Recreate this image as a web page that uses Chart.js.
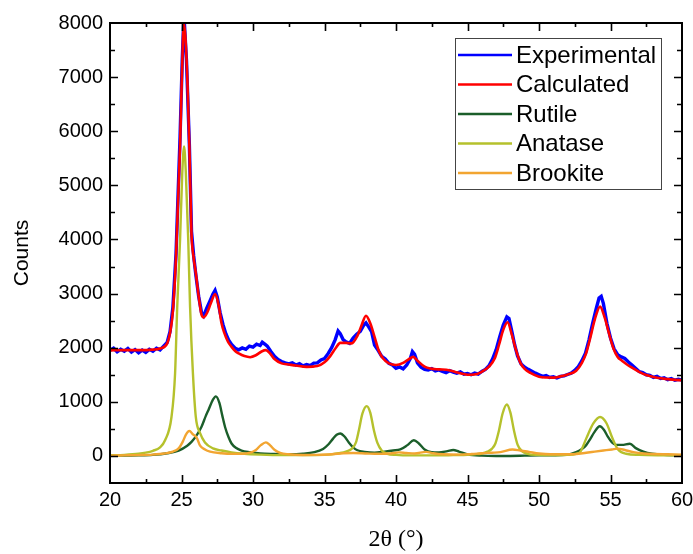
<!DOCTYPE html>
<html>
<head>
<meta charset="utf-8">
<script src="https://cdn.jsdelivr.net/npm/chart.js@4"></script>
<style>
  body { margin: 0; background: #fff; }
  canvas { display: block; }
</style>
</head>
<body>
<canvas id="xrd" width="693" height="554"></canvas>
<script>
// --- XRD pattern: measured vs. refined profile, plus the three TiO2 phases ---
const angleTicks = [20, 25, 30, 35, 40, 45, 50, 55, 60];
const countTicks = [0, 1000, 2000, 3000, 4000, 5000, 6000, 7000, 8000];

// [2theta, counts]
const experimental = [
  [20,1950],[20.25,1990],[20.5,1925],[20.75,1970],[21,1935],[21.25,1985],[21.5,1920],[21.75,1965],
  [22,1905],[22.25,1955],[22.5,1915],[22.75,1970],[23,1935],[23.25,1990],[23.5,1960],[23.75,2030],
  [24,2100],[24.2,2300],[24.4,2750],[24.62,3750],[24.9,5900],[25.05,7300],[25.17,8150],[25.35,7300],
  [25.55,5750],[25.7,4150],[25.85,3700],[26,3350],[26.2,2950],[26.4,2650],[26.55,2590],[26.75,2720],
  [27,2870],[27.2,2990],[27.35,3060],[27.5,2940],[27.7,2650],[27.9,2430],[28.1,2260],[28.3,2140],
  [28.5,2060],[28.75,1990],[29,1960],[29.25,1995],[29.5,1970],[29.75,2030],[30,2010],[30.25,2065],
  [30.5,2040],[30.65,2100],[30.85,2060],[31,2030],[31.25,1930],[31.5,1840],[31.75,1780],[32,1745],
  [32.25,1720],[32.5,1700],[32.75,1720],[33,1680],[33.25,1705],[33.5,1665],[33.75,1690],[34,1670],
  [34.25,1715],[34.5,1720],[34.75,1775],[35,1800],[35.25,1890],[35.5,2000],[35.75,2150],[35.95,2310],
  [36.1,2260],[36.3,2150],[36.5,2110],[36.75,2080],[37,2180],[37.25,2250],[37.5,2300],[37.75,2420],
  [37.9,2460],[38.1,2380],[38.3,2290],[38.5,2050],[38.75,1950],[39,1840],[39.25,1790],[39.5,1710],
  [39.75,1680],[40,1620],[40.25,1645],[40.5,1610],[40.75,1680],[41,1800],[41.15,1930],[41.3,1880],
  [41.5,1720],[41.75,1640],[42,1600],[42.25,1590],[42.5,1615],[42.75,1570],[43,1590],[43.25,1560],
  [43.5,1540],[43.75,1575],[44,1550],[44.25,1530],[44.5,1555],[44.75,1510],[45,1525],[45.25,1500],
  [45.5,1530],[45.75,1510],[46,1560],[46.25,1600],[46.5,1665],[46.75,1790],[47,1960],[47.25,2200],
  [47.5,2420],[47.75,2570],[47.9,2540],[48.1,2300],[48.3,2050],[48.5,1850],[48.75,1700],[49,1640],
  [49.25,1600],[49.5,1565],[49.75,1530],[50,1500],[50.25,1470],[50.5,1485],[50.75,1450],[51,1465],
  [51.25,1440],[51.5,1470],[51.75,1480],[52,1505],[52.25,1530],[52.5,1580],[52.75,1650],[53,1760],
  [53.25,1900],[53.5,2150],[53.75,2450],[54,2720],[54.2,2920],[54.35,2950],[54.5,2820],[54.75,2450],
  [55,2180],[55.25,1980],[55.5,1870],[55.75,1830],[56,1800],[56.25,1735],[56.5,1680],[56.75,1620],
  [57,1560],[57.25,1540],[57.5,1500],[57.75,1490],[58,1450],[58.25,1470],[58.5,1430],[58.75,1445],
  [59,1410],[59.25,1430],[59.5,1400],[59.75,1415],[60,1400]
];

const calculated = [
  [20,1950],[21,1955],[22,1955],[23,1965],[23.5,1985],[24,2080],[24.2,2270],[24.4,2680],
  [24.62,3700],[24.9,5730],[25.02,6950],[25.17,7990],[25.41,6950],[25.55,5730],[25.7,4100],[25.83,3700],
  [26,3380],[26.2,2950],[26.41,2600],[26.55,2560],[26.8,2650],[27.05,2820],[27.35,2990],[27.6,2780],
  [27.8,2450],[28,2270],[28.25,2110],[28.5,2015],[28.75,1940],[29,1895],[29.4,1845],[29.8,1825],
  [30.2,1860],[30.6,1930],[30.9,1955],[31.2,1890],[31.5,1790],[32,1710],[32.5,1690],[33,1670],
  [33.75,1645],[34.5,1660],[35,1730],[35.4,1845],[35.8,2000],[36.1,2090],[36.5,2090],[36.9,2080],
  [37.3,2220],[37.6,2420],[37.9,2590],[38.2,2450],[38.5,2200],[38.8,1940],[39.1,1800],[39.5,1710],
  [40,1680],[40.5,1720],[40.9,1790],[41.2,1830],[41.5,1760],[42,1650],[42.4,1615],[43,1600],
  [43.7,1585],[44.3,1540],[45,1500],[45.5,1505],[46,1555],[46.5,1650],[46.9,1800],[47.2,2050],
  [47.5,2330],[47.8,2470],[48.1,2240],[48.4,1950],[48.7,1720],[49,1610],[49.4,1535],[50,1465],
  [50.5,1450],[51,1448],[51.5,1470],[52,1505],[52.6,1575],[53,1720],[53.3,1900],[53.6,2200],
  [53.9,2520],[54.27,2760],[54.6,2550],[54.9,2260],[55.2,1990],[55.5,1830],[55.8,1760],[56.1,1700],
  [56.5,1630],[57,1555],[57.5,1495],[58,1460],[58.5,1435],[59,1420],[59.5,1405],[60,1400]
];

const rutile = [
  [20,5],[22,10],[23,20],[24,50],[24.8,100],[25.4,190],[25.7,260],[26.1,400],[26.4,540],[26.7,740],
  [26.9,860],[27.2,1040],[27.4,1100],[27.65,980],[27.85,750],[28.05,530],[28.3,340],[28.5,230],
  [28.8,150],[29.2,100],[29.8,70],[30.5,45],[31.5,35],[32.5,30],[33.5,40],[34.3,70],[34.9,130],
  [35.3,220],[35.6,320],[35.85,390],[36.1,415],[36.4,360],[36.7,250],[37,160],[37.3,105],[37.8,75],
  [38.5,60],[39.2,80],[39.8,100],[40.3,120],[40.8,200],[41.25,290],[41.6,230],[42,120],[42.5,70],
  [43,65],[43.6,90],[44,110],[44.4,80],[45,30],[46,5],[47,0],[48,0],[49,5],[50,10],[51,12],
  [51.9,20],[52.6,70],[53,130],[53.3,200],[53.6,320],[53.85,430],[54.25,550],[54.55,480],[54.8,360],
  [55.1,250],[55.4,205],[55.8,205],[56.35,225],[56.8,140],[57.3,80],[57.9,40],[58.5,25],[59.5,12],[60,10]
];

const anatase = [
  [20,10],[21,20],[22,40],[22.5,60],[23,95],[23.5,160],[23.85,290],[24.3,720],[24.55,1520],[24.7,2750],
  [24.9,4000],[25.05,5200],[25.18,5720],[25.3,5250],[25.47,4000],[25.6,2750],[25.8,1520],[26,720],
  [26.3,420],[26.64,250],[27.2,140],[27.8,100],[28.5,65],[29.4,40],[30.5,25],[32,15],[33.5,15],
  [35,20],[35.5,30],[36,50],[36.5,80],[36.9,130],[37.2,250],[37.4,470],[37.65,780],[37.95,920],
  [38.2,800],[38.45,480],[38.7,240],[39,100],[39.4,40],[40,20],[41,10],[43,10],[44,15],[45,20],
  [45.5,30],[46,45],[46.4,80],[46.7,130],[46.95,230],[47.2,470],[47.45,780],[47.75,950],[48,800],
  [48.25,470],[48.5,210],[48.8,90],[49.2,40],[49.8,20],[51,15],[52,20],[52.6,40],[52.9,80],
  [53.3,320],[53.8,600],[54.27,720],[54.73,600],[55.1,350],[55.5,130],[56.1,40],[57,20],[58.5,12],[60,10]
];

const brookite = [
  [20,5],[21,10],[22,15],[23,25],[23.8,45],[24.4,80],[24.8,140],[25.1,270],[25.3,390],[25.55,460],
  [25.8,400],[26.06,340],[26.3,190],[26.64,120],[27,80],[27.8,50],[28.5,38],[29.3,40],[29.8,60],
  [30.2,110],[30.55,200],[30.9,250],[31.2,195],[31.5,115],[31.9,55],[32.5,30],[33.5,18],[34.5,20],
  [35.5,30],[36.3,50],[37,55],[38,45],[38.8,40],[39.6,45],[40.2,65],[40.7,55],[41.3,45],[42.1,75],
  [42.6,50],[43.3,30],[44.5,25],[45.3,35],[46,50],[46.7,60],[47.3,70],[48.15,120],[48.7,100],
  [49.3,75],[50,45],[50.8,30],[51.8,30],[52.6,35],[53.3,60],[53.9,80],[54.5,100],[55.1,120],
  [55.5,135],[56,110],[56.6,70],[57.3,45],[58,35],[59,30],[60,25]
];

const toPoints = arr => arr.map(([x, y]) => ({ x, y }));

// closed box with inward major/minor ticks on all four sides
const frame = {
  id: 'frame',
  afterDatasetsDraw(chart) {
    const { ctx, chartArea: a, scales: { x, y } } = chart;
    ctx.save();
    ctx.strokeStyle = '#000';
    ctx.lineWidth = 1.6;
    ctx.beginPath();
    const xStep = (angleTicks[1] - angleTicks[0]) / 2;
    for (let v = x.min + xStep; v < x.max; v += xStep) {
      const p = Math.round(x.getPixelForValue(v)) + 0.5;
      const len = angleTicks.includes(v) ? 8 : 4;
      ctx.moveTo(p, a.bottom); ctx.lineTo(p, a.bottom - len);
      ctx.moveTo(p, a.top); ctx.lineTo(p, a.top + len);
    }
    const yStep = (countTicks[1] - countTicks[0]) / 2;
    for (let v = y.min + yStep; v < y.max; v += yStep) {
      const p = Math.round(y.getPixelForValue(v)) + 0.5;
      const len = countTicks.includes(v) ? 8 : 5;
      ctx.moveTo(a.left, p); ctx.lineTo(a.left + len, p);
      ctx.moveTo(a.right, p); ctx.lineTo(a.right - len, p);
    }
    ctx.stroke();
    ctx.lineWidth = 2;
    ctx.strokeRect(a.left, a.top, a.right - a.left, a.bottom - a.top);
    ctx.restore();
  }
};

// legend box in the upper right of the plot
const legendBox = {
  id: 'legendBox',
  afterDraw(chart) {
    const { ctx, chartArea: a } = chart;
    const left = a.right - 227, top = a.top + 15, w = 206, h = 151, rowH = 29.5;
    ctx.save();
    ctx.fillStyle = '#fff';
    ctx.fillRect(left, top, w, h);
    ctx.strokeStyle = '#444';
    ctx.lineWidth = 1;
    ctx.strokeRect(left + 0.5, top + 0.5, w, h);
    ctx.font = '24px "Liberation Sans", Arial, sans-serif';
    ctx.textBaseline = 'middle';
    chart.data.datasets.forEach((ds, i) => {
      const cy = top + 17 + i * rowH;
      ctx.strokeStyle = ds.borderColor;
      ctx.lineWidth = 2.5;
      ctx.beginPath();
      ctx.moveTo(left + 3, cy);
      ctx.lineTo(left + 57, cy);
      ctx.stroke();
      ctx.fillStyle = '#000';
      ctx.fillText(ds.label, left + 61, cy + 1);
    });
    ctx.restore();
  }
};

const tickFont = { family: 'Liberation Sans', size: 20 };

new Chart(document.getElementById('xrd'), {
  type: 'line',
  data: {
    datasets: [
      { label: 'Experimental', data: toPoints(experimental), borderColor: '#0000ff', borderWidth: 3.4, tension: 0, order: 5 },
      { label: 'Calculated', data: toPoints(calculated), borderColor: '#ff0000', borderWidth: 2.6, cubicInterpolationMode: 'monotone', order: 4 },
      { label: 'Rutile', data: toPoints(rutile), borderColor: '#1b5e2a', borderWidth: 2.4, cubicInterpolationMode: 'monotone', order: 3 },
      { label: 'Anatase', data: toPoints(anatase), borderColor: '#b5c12c', borderWidth: 2.4, cubicInterpolationMode: 'monotone', order: 2 },
      { label: 'Brookite', data: toPoints(brookite), borderColor: '#f2a531', borderWidth: 2.4, cubicInterpolationMode: 'monotone', order: 1 }
    ]
  },
  options: {
    responsive: false,
    animation: false,
    devicePixelRatio: 1,
    layout: { padding: { top: 23, right: 11, left: 0, bottom: 0 } },
    elements: { point: { radius: 0 } },
    plugins: { legend: { display: false }, tooltip: { enabled: false } },
    scales: {
      x: {
        type: 'linear', min: 20, max: 60,
        afterBuildTicks: s => { s.ticks = angleTicks.map(value => ({ value })); },
        afterFit: s => { s.height = 71; s.paddingLeft = 0; s.paddingRight = 0; },
        grid: { display: false, drawTicks: false },
        border: { display: false },
        ticks: { color: '#000', font: tickFont, padding: 5, maxRotation: 0, autoSkip: false, callback: v => String(v) },
        title: { display: true, text: '2θ (°)', color: '#000', font: { family: 'Liberation Serif', size: 24 }, padding: { top: 0, bottom: 0 } }
      },
      y: {
        type: 'linear', min: -500, max: 8000,
        afterBuildTicks: s => { s.ticks = countTicks.map(value => ({ value })); },
        afterFit: s => { s.width = 110; s.paddingTop = 0; s.paddingBottom = 0; },
        grid: { display: false, drawTicks: false },
        border: { display: false },
        ticks: { color: '#000', font: tickFont, padding: 7, autoSkip: false, callback: v => String(v) },
        title: { display: true, text: 'Counts', color: '#000', font: { family: 'Liberation Sans', size: 21 }, padding: { top: 10, bottom: 0 } }
      }
    }
  },
  plugins: [frame, legendBox]
});
</script>
</body>
</html>
